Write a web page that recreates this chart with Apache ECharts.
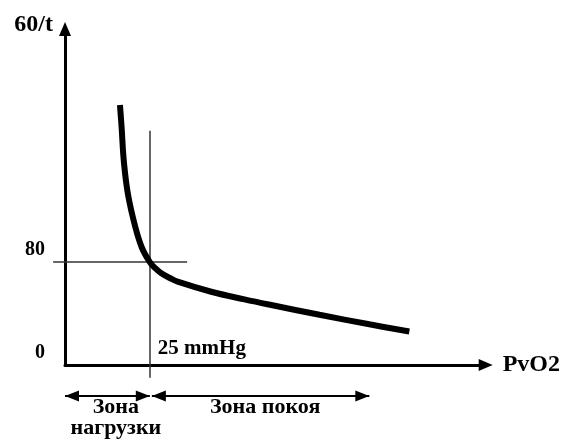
<!DOCTYPE html>
<html>
<head>
<meta charset="utf-8">
<script src="https://cdn.jsdelivr.net/npm/echarts@6/dist/echarts.min.js"></script>
<style>
  html, body { margin: 0; background: #fff; }
  #chart { width: 563px; height: 440px; }
</style>
</head>
<body>
<div id="chart"></div>
<script>
// curve 60/t against PvO2
const pvo2 = [16.2, 16.7, 17.35, 18.6, 20.8, 22.7, 25, 26.5, 28.4, 30.9, 33.2, 43.1, 52.9, 60.8, 75, 89.7, 101.5];
const rate = [202, 184, 158, 132, 106.4, 90.9, 80, 75.5, 71.2, 67.6, 64.7, 56.9, 51, 46.6, 39, 31.6, 26];

// threshold guides
const thresholdX = 25;
const thresholdY = 80;
const vGuideY = [-10, 182];
const hGuideX = [-3.5, 36];

// ticks
const yTicks = [0, 80];
const xTicks = [25];

// zones under the x axis
const zoneNames = ['Зона\nнагрузки', 'Зона покоя'];
const zoneLabelX = [15, 59];
const loadZone = [0, 25];
const restZone = [25.6, 89.7];
const zoneY = -24;

const serif = '"Liberation Serif", "DejaVu Serif", serif';
const chart = echarts.init(document.getElementById('chart'));

function arrowSeries (range) {
  return {
    type: 'line',
    clip: false,
    symbol: 'triangle',
    symbolSize: [11, 14],
    itemStyle: { color: '#000' },
    lineStyle: { color: '#000', width: 2 },
    data: [
      { value: [range[0], zoneY], symbolRotate: 90, symbolOffset: [7, 0] },
      { value: [range[1], zoneY], symbolRotate: -90, symbolOffset: [-7, 0] }
    ]
  }
}

const option = {
  backgroundColor: '#fff',
  animation: false,
  grid: { left: 65, right: 77, top: 29, bottom: 75 },
  xAxis: {
    type: 'value',
    min: 0,
    max: 124,
    name: 'PvO2',
    nameLocation: 'end',
    nameGap: 17,
    nameTextStyle: {
      fontFamily: serif, fontWeight: 'bold', fontSize: 24, color: '#000',
      align: 'left', verticalAlign: 'middle', padding: [22, 0, 0, 0]
    },
    axisLine: {
      lineStyle: { color: '#000', width: 3 },
      symbol: ['none', 'triangle'],
      symbolSize: [12, 14]
    },
    axisTick: { show: false },
    splitLine: { show: false },
    axisLabel: {
      customValues: xTicks,
      inside: true,
      margin: 6,
      align: 'left',
      padding: [0, 0, 0, 8],
      formatter: v => v + ' mmHg',
      fontFamily: serif, fontWeight: 'bold', fontSize: 21, color: '#000'
    }
  },
  yAxis: {
    type: 'value',
    min: 0,
    max: 261,
    name: '60/t',
    nameLocation: 'end',
    nameGap: 4,
    nameTextStyle: {
      fontFamily: serif, fontWeight: 'bold', fontSize: 24, color: '#000',
      align: 'right', verticalAlign: 'middle', padding: [0, 12, 0, 0]
    },
    axisLine: {
      lineStyle: { color: '#000', width: 3 },
      symbol: ['none', 'triangle'],
      symbolSize: [12, 14]
    },
    axisTick: { show: false },
    splitLine: { show: false },
    axisLabel: {
      customValues: yTicks,
      margin: 20,
      verticalAlign: 'bottom',
      padding: [0, 0, 2, 0],
      fontFamily: serif, fontWeight: 'bold', fontSize: 20, color: '#000'
    }
  },
  series: [
    {
      // guide lines through the 25 mmHg / 80 point
      type: 'lines',
      coordinateSystem: 'cartesian2d',
      clip: false,
      symbol: 'none',
      lineStyle: { color: '#333', width: 1.5, opacity: 1, curveness: 0 },
      data: [
        { coords: [[thresholdX, vGuideY[0]], [thresholdX, vGuideY[1]]] },
        { coords: [[hGuideX[0], thresholdY], [hGuideX[1], thresholdY]] }
      ]
    },
    {
      type: 'line',
      data: pvo2.map((x, i) => [x, rate[i]]),
      smooth: 0.4,
      symbol: 'none',
      z: 3,
      lineStyle: { color: '#000', width: 6, cap: 'butt' }
    },
    arrowSeries(loadZone),
    arrowSeries(restZone),
    {
      type: 'scatter',
      clip: false,
      symbolSize: 0,
      itemStyle: { color: '#000', opacity: 1 },
      data: zoneLabelX.map(x => [x, zoneY]),
      label: {
        show: true,
        position: 'bottom',
        distance: 1,
        formatter: p => zoneNames[p.dataIndex],
        fontFamily: serif, fontWeight: 'bold', fontSize: 22, lineHeight: 21,
        color: '#000'
      }
    }
  ]
}

chart.setOption(option);
</script>
</body>
</html>
